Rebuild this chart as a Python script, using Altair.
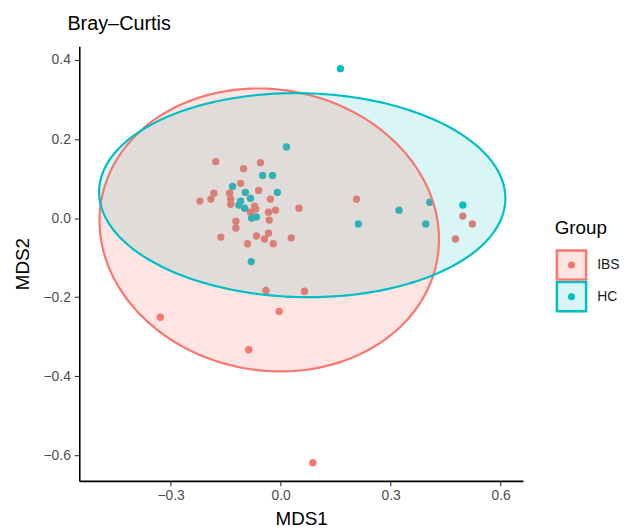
import altair as alt
import numpy as np
import pandas as pd

# ---- data ----
groups = ["IBS", "HC"]
colors = ["#F8766D", "#00BFC4"]

ibs_x = [-0.177, -0.101, -0.055, -0.109, -0.060, -0.182, -0.139, -0.190, -0.220,
         -0.136, -0.028, -0.136, -0.071, -0.068, 0.050, -0.014, -0.033, -0.082,
         -0.122, -0.031, -0.122, -0.163, -0.066, -0.033, -0.044, 0.029, -0.090,
         -0.020, 0.207, 0.497, 0.523, 0.477, -0.040, 0.065, -0.004, -0.328,
         -0.087, 0.088]
ibs_y = [0.143, 0.125, 0.140, 0.088, 0.070, 0.063, 0.063, 0.048, 0.043,
         0.048, 0.048, 0.035, 0.030, 0.023, 0.025, 0.020, 0.015, 0.015,
         -0.008, -0.005, -0.025, -0.048, -0.045, -0.038, -0.053, -0.050, -0.065,
         -0.065, 0.048, 0.005, -0.015, -0.053, -0.183, -0.185, -0.236, -0.251,
         -0.333, -0.619]

hc_x = [0.163, 0.016, -0.049, -0.022, -0.131, -0.009, -0.096, -0.082, -0.109,
        -0.114, -0.098, -0.079, -0.066, -0.080, 0.212, 0.323, 0.407, 0.396, 0.497]
hc_y = [0.378, 0.180, 0.108, 0.108, 0.080, 0.065, 0.065, 0.050, 0.043,
        0.033, 0.025, 0.000, 0.003, -0.110, -0.015, 0.020, 0.040, -0.015, 0.033]

x_ticks = [-0.3, 0.0, 0.3, 0.6]
y_ticks = [-0.6, -0.4, -0.2, 0.0, 0.2, 0.4]
x_domain = [-0.549, 0.661]
y_domain = [-0.665, 0.435]

title_text = "Bray–Curtis"
legend_title = "Group"

# confidence ellipses: centre and two conjugate semi-axis vectors (data units)
ell_center = {"IBS": (-0.031, -0.030), "HC": (0.059, 0.058)}
ell_u = {"IBS": (0.458, -0.075), "HC": (0.554, -0.008)}
ell_v = {"IBS": (0.067, 0.350), "HC": (0.000, 0.258)}
fill_alpha = {"IBS": 0.2, "HC": 0.15}

FONT = "Liberation Sans"

# ---- tables ----
pts = pd.concat([
    pd.DataFrame({"MDS1": ibs_x, "MDS2": ibs_y, "Group": "IBS"}),
    pd.DataFrame({"MDS1": hc_x, "MDS2": hc_y, "Group": "HC"}),
], ignore_index=True)

tt = np.linspace(0, 2 * np.pi, 241)


def ellipse_df(g):
    cx, cy = ell_center[g]
    ux, uy = ell_u[g]
    vx, vy = ell_v[g]
    return pd.DataFrame({
        "MDS1": cx + ux * np.cos(tt) + vx * np.sin(tt),
        "MDS2": cy + uy * np.cos(tt) + vy * np.sin(tt),
        "i": np.arange(len(tt)),
        "Group": g,
    })


xs = alt.Scale(domain=x_domain, nice=False, zero=False)
ys = alt.Scale(domain=y_domain, nice=False, zero=False)
cscale = alt.Scale(domain=groups, range=colors)

axis_common = dict(grid=False, tickSize=5, tickColor="#333333", tickWidth=1.1,
                   domainColor="black", domainWidth=1.6,
                   labelColor="#4D4D4D", labelFontSize=14, labelFont=FONT,
                   titleFont=FONT, titleFontSize=19, titleFontWeight="normal",
                   titleColor="black", format=".1f")

X = alt.X("MDS1:Q", scale=xs,
          axis=alt.Axis(values=x_ticks, title="MDS1", labelPadding=3,
                        titlePadding=7, **axis_common))
Y = alt.Y("MDS2:Q", scale=ys,
          axis=alt.Axis(values=y_ticks, title="MDS2", labelPadding=4,
                        titlePadding=11, **axis_common))

points = alt.Chart(pts).mark_circle(size=55, opacity=1).encode(
    x=X, y=Y, color=alt.Color("Group:N", scale=cscale, legend=None))

layers = [points]
# fills (HC first, IBS over it)
for g in ["HC", "IBS"]:
    c = colors[groups.index(g)]
    layers.append(
        alt.Chart(ellipse_df(g)).mark_line(fill=c, fillOpacity=fill_alpha[g],
                                           stroke=c, strokeOpacity=0, strokeWidth=0)
        .encode(x="MDS1:Q", y="MDS2:Q", order="i:Q"))
# outlines (IBS first, HC on top)
for g in ["IBS", "HC"]:
    c = colors[groups.index(g)]
    layers.append(
        alt.Chart(ellipse_df(g)).mark_line(stroke=c, strokeWidth=2.2)
        .encode(x="MDS1:Q", y="MDS2:Q", order="i:Q"))

# ---- plot title ----
layers.append(
    alt.Chart(pd.DataFrame({"t": [title_text]})).mark_text(
        align="left", baseline="alphabetic", fontSize=20, font=FONT, color="black")
    .encode(x=alt.value(-12), y=alt.value(-16), text="t:N"))

# ---- legend drawn by hand (ggplot-style keys) ----
leg_x = 497
leg_y0 = 221
leg_step = 32
layers.append(
    alt.Chart(pd.DataFrame({"t": [legend_title]})).mark_text(
        align="left", baseline="middle", fontSize=19, font=FONT, color="black")
    .encode(x=alt.value(leg_x - 17), y=alt.value(leg_y0 - 37), text="t:N"))
for k, g in enumerate(groups):
    c = colors[k]
    d = pd.DataFrame({"Group": [g]})
    yv = leg_y0 + leg_step * k
    layers.append(alt.Chart(d).mark_square(size=870, fill=c, fillOpacity=fill_alpha[g],
                                           stroke=c, strokeWidth=2.5, opacity=1)
                  .encode(x=alt.value(leg_x), y=alt.value(yv)))
    layers.append(alt.Chart(d).mark_circle(size=50, color=c, opacity=1)
                  .encode(x=alt.value(leg_x), y=alt.value(yv)))
    layers.append(alt.Chart(d).mark_text(align="left", baseline="middle",
                                         fontSize=14, font=FONT, color="#1A1A1A")
                  .encode(x=alt.value(leg_x + 26), y=alt.value(yv), text="Group:N"))

chart = alt.layer(*layers).properties(
    width=448, height=439,
    autosize=alt.AutoSizeParams(type="none"),
    padding={"left": 72, "top": 36, "right": 100, "bottom": 45},
).configure_view(strokeWidth=0)

chart.save("out.html", embed_options={"renderer": "svg", "actions": False})
